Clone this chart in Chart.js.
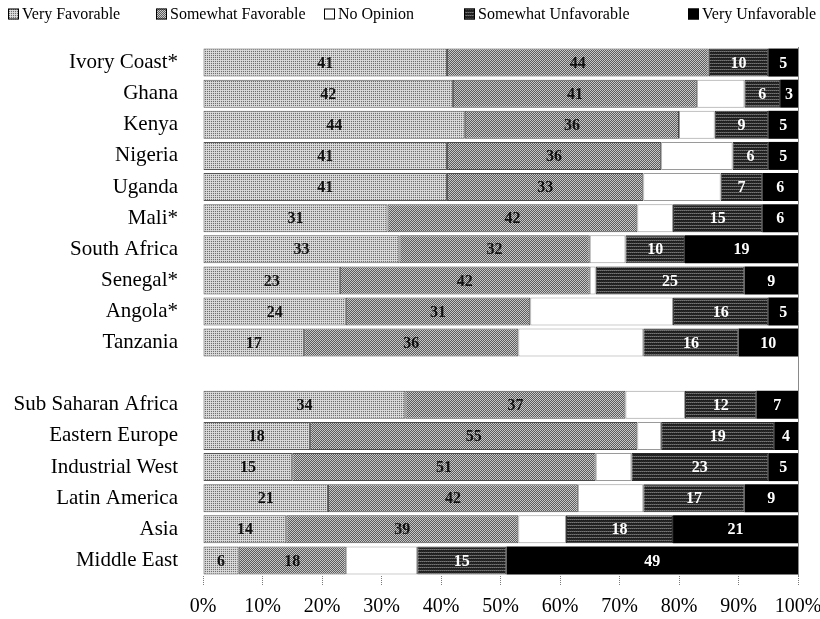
<!DOCTYPE html>
<html>
<head>
<meta charset="utf-8">
<script src="https://cdn.jsdelivr.net/npm/chart.js@4.4.0/dist/chart.umd.min.js"></script>
<style>
  html, body { margin: 0; padding: 0; background: #fff; }
  #wrap { width: 820px; height: 619px; }
</style>
</head>
<body>
<div id="wrap"><canvas id="chart" width="820" height="619"></canvas></div>
<script>
// Countries (top block), a spacer row, then regional averages (bottom block)
const categories = [
  'Ivory Coast*', 'Ghana', 'Kenya', 'Nigeria', 'Uganda', 'Mali*', 'South Africa',
  'Senegal*', 'Angola*', 'Tanzania', '',
  'Sub Saharan Africa', 'Eastern Europe', 'Industrial West', 'Latin America', 'Asia', 'Middle East'
];

// Share of respondents (%) per opinion
const veryFavorable      = [41, 42, 44, 41, 41, 31, 33, 23, 24, 17, null, 34, 18, 15, 21, 14, 6];
const somewhatFavorable  = [44, 41, 36, 36, 33, 42, 32, 42, 31, 36, null, 37, 55, 51, 42, 39, 18];
const noOpinion          = [0, 8, 6, 12, 13, 6, 6, 1, 24, 21, null, 10, 4, 6, 11, 8, 12];
const somewhatUnfavorable= [10, 6, 9, 6, 7, 15, 10, 25, 16, 16, null, 12, 19, 23, 17, 18, 15];
const veryUnfavorable    = [5, 3, 5, 5, 6, 6, 19, 9, 5, 10, null, 7, 4, 5, 9, 21, 49];

const seriesNames = ['Very Favorable', 'Somewhat Favorable', 'No Opinion', 'Somewhat Unfavorable', 'Very Unfavorable'];
const xTicks = [0, 10, 20, 30, 40, 50, 60, 70, 80, 90, 100];

const SERIF = '"Liberation Serif", "Times New Roman", serif';

// Small repeating stipple tiles used as bar fills
function makePattern(rows) {
  const c = document.createElement('canvas');
  c.width = rows[0].length; c.height = rows.length;
  const g = c.getContext('2d');
  rows.forEach((r, y) => r.forEach((col, x) => { g.fillStyle = col; g.fillRect(x, y, 1, 1); }));
  return g.createPattern(c, 'repeat');
}
const fillVeryFav = makePattern([
  ['#dedede', '#d2d2d2'],
  ['#d2d2d2', '#6e6e6e']
]);
const fillSomeFav = makePattern([
  ['#c8c8c8', '#5c5c5c'],
  ['#5c5c5c', '#c8c8c8']
]);
const fillSomeUnfav = makePattern([
  ['#767676', '#5a5a5a', '#767676', '#5a5a5a'],
  ['#262626', '#1a1a1a', '#262626', '#1a1a1a'],
  ['#1e1e1e', '#2a2a2a', '#1e1e1e', '#2a2a2a']
]);

const fills   = [fillVeryFav, fillSomeFav, '#ffffff', fillSomeUnfav, '#000000'];
const borders = ['#555555', '#4a4a4a', '#9a9a9a', '#2a2a2a', '#000000'];
const labelColors = ['#111111', '#111111', null, '#ffffff', '#ffffff'];
const values = [veryFavorable, somewhatFavorable, noOpinion, somewhatUnfavorable, veryUnfavorable];

const datasets = values.map((vals, i) => ({
  label: seriesNames[i],
  data: vals,
  backgroundColor: fills[i],
  borderColor: borders[i],
  borderWidth: i === 4 ? 0 : 1,
  borderSkipped: false,
  categoryPercentage: 1.0,
  barPercentage: 0.9,
  valueColor: labelColors[i]
}));

// Value labels centred in each segment
const segmentLabels = {
  id: 'segmentLabels',
  afterDatasetsDraw(chart) {
    const ctx = chart.ctx;
    ctx.save();
    ctx.font = 'bold 16px ' + SERIF;
    ctx.textAlign = 'center';
    ctx.textBaseline = 'middle';
    chart.data.datasets.forEach((ds, i) => {
      if (!ds.valueColor) return;
      const meta = chart.getDatasetMeta(i);
      meta.data.forEach((bar, j) => {
        const v = ds.data[j];
        if (v === null || v === undefined) return;
        const p = bar.getProps(['x', 'y', 'base'], true);
        ctx.fillStyle = ds.valueColor;
        ctx.fillText(String(v), (p.x + p.base) / 2, p.y + 1);
      });
    });
    ctx.restore();
  }
};

// Legend row across the top of the canvas (left edge of each key box)
const legendSlots = [8, 156, 324, 464, 688];
const topLegend = {
  id: 'topLegend',
  afterDraw(chart) {
    const ctx = chart.ctx;
    ctx.save();
    ctx.font = '16px ' + SERIF;
    ctx.textBaseline = 'middle';
    const box = 11, gapText = 3, cy = 14;
    chart.data.datasets.forEach((ds, i) => {
      const x = legendSlots[i];
      ctx.fillStyle = ds.backgroundColor;
      ctx.fillRect(x, cy - box / 2, box, box);
      ctx.strokeStyle = '#000';
      ctx.lineWidth = 1;
      ctx.strokeRect(x + 0.5, cy - box / 2 + 0.5, box - 1, box - 1);
      ctx.fillStyle = '#000';
      ctx.fillText(ds.label, x + box + gapText, cy + 1);
    });
    ctx.restore();
  }
};

new Chart(document.getElementById('chart'), {
  type: 'bar',
  data: { labels: categories, datasets },
  plugins: [segmentLabels, topLegend],
  options: {
    indexAxis: 'y',
    responsive: false,
    devicePixelRatio: 1,
    animation: false,
    layout: { padding: { top: 47, left: 12, right: 22, bottom: 0 } },
    plugins: {
      legend: { display: false },
      tooltip: { enabled: false }
    },
    scales: {
      x: {
        stacked: true,
        min: 0,
        max: 100,
        afterBuildTicks(scale) { scale.ticks = xTicks.map(v => ({ value: v })); },
        afterFit(scale) {
          scale.height = 43;
          scale.paddingLeft = 0;
          scale.paddingRight = 0;
        },
        border: { display: false },
        grid: {
          drawOnChartArea: true,
          color: ctx => (ctx.tick && ctx.tick.value === 100) ? '#8a8a8a' : 'rgba(0,0,0,0)',
          borderDash: [1, 2],
          tickColor: '#7a7a7a',
          tickBorderDash: [1, 1],
          tickLength: 9
        },
        ticks: {
          color: '#000',
          font: { family: SERIF, size: 20 },
          padding: 10,
          maxRotation: 0,
          callback: v => v + '%'
        }
      },
      y: {
        stacked: true,
        afterFit(scale) { scale.width = 191; },
        border: { display: false },
        grid: { display: false, drawTicks: false },
        ticks: {
          color: '#000',
          font: { family: SERIF, size: 21 },
          padding: 25,
          autoSkip: false
        }
      }
    }
  }
});
</script>
</body>
</html>
